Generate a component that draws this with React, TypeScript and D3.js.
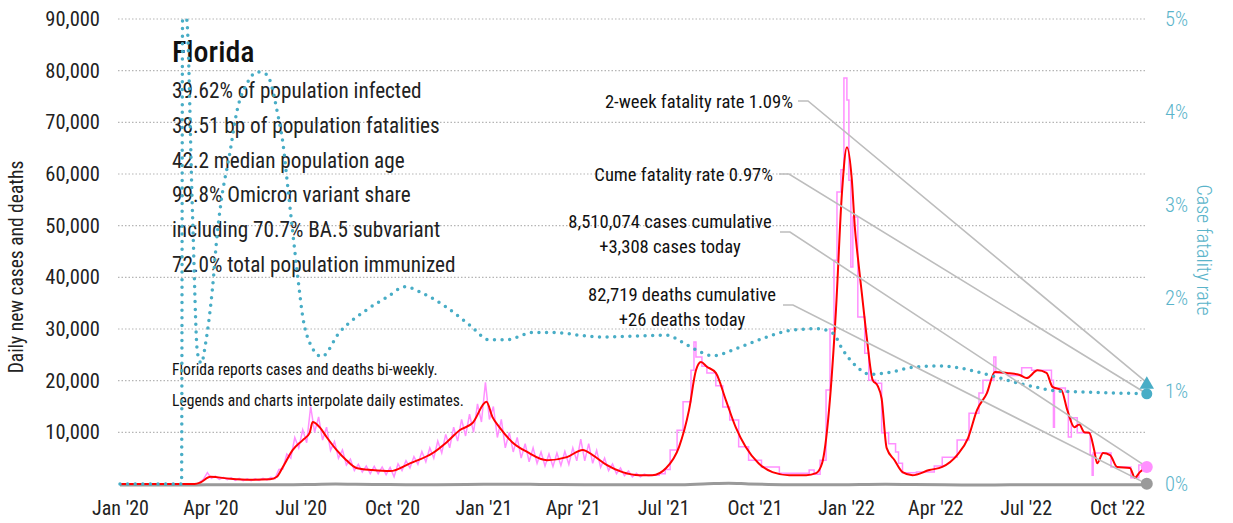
import React, { useEffect, useRef } from "react";
import * as d3 from "d3";

const FONT = "'Roboto Condensed', 'Roboto', sans-serif";

const caseTicks = [10000, 20000, 30000, 40000, 50000, 60000, 70000, 80000, 90000];
const cfrTicks = [0, 1, 2, 3, 4, 5];
const quarterTicks = [
  "2020-01-01", "2020-04-01", "2020-07-01", "2020-10-01",
  "2021-01-01", "2021-04-01", "2021-07-01", "2021-10-01",
  "2022-01-01", "2022-04-01", "2022-07-01", "2022-10-01",
];

const stateName = "Florida";
const infoLines = [
  "39.62% of population infected",
  "38.51 bp of population fatalities",
  "42.2 median population age",
  "99.8% Omicron variant share",
  "including 70.7% BA.5 subvariant",
  "72.0% total population immunized",
];
const notes = [
  "Florida reports cases and deaths bi-weekly.",
  "Legends and charts interpolate daily estimates.",
];

// 7-day average of new cases (red)
const avgCases: [string, number][] = [
  ["2020-01-01", 0], ["2020-03-16", 0], ["2020-03-22", 300], ["2020-04-01", 1400],
  ["2020-04-21", 1000], ["2020-05-11", 800], ["2020-05-31", 900], ["2020-06-07", 1400],
  ["2020-06-13", 3300], ["2020-06-23", 6600], ["2020-07-03", 8500], ["2020-07-10", 9900],
  ["2020-07-13", 12000], ["2020-07-20", 11000], ["2020-07-27", 9100], ["2020-08-06", 6600],
  ["2020-08-16", 4600], ["2020-08-26", 3100], ["2020-09-11", 2700], ["2020-09-29", 2500],
  ["2020-10-19", 4000], ["2020-11-11", 6000], ["2020-11-25", 8100], ["2020-12-08", 10400],
  ["2020-12-21", 11800], ["2021-01-04", 15900], ["2021-01-10", 13000], ["2021-01-17", 11000],
  ["2021-01-30", 8100], ["2021-02-14", 6200], ["2021-03-06", 4600], ["2021-03-26", 5200],
  ["2021-04-11", 6600], ["2021-04-21", 5600], ["2021-05-05", 3700], ["2021-05-21", 2300],
  ["2021-06-07", 1700], ["2021-06-20", 1700], ["2021-07-04", 3100], ["2021-07-17", 7200],
  ["2021-07-27", 14300], ["2021-08-03", 22000], ["2021-08-08", 23600], ["2021-08-14", 22700],
  ["2021-08-23", 21500], ["2021-09-02", 16300], ["2021-09-12", 11000], ["2021-09-22", 7200],
  ["2021-10-05", 4000], ["2021-10-19", 2300], ["2021-11-05", 1700], ["2021-11-22", 1700],
  ["2021-12-02", 2100], ["2021-12-08", 4000], ["2021-12-15", 14300], ["2021-12-22", 33700],
  ["2021-12-28", 56300], ["2022-01-02", 65200], ["2022-01-07", 58800], ["2022-01-10", 49700],
  ["2022-01-13", 43900], ["2022-01-17", 37000], ["2022-01-22", 28400], ["2022-01-28", 20100],
  ["2022-02-02", 19000], ["2022-02-06", 16500], ["2022-02-11", 7000], ["2022-02-19", 4600],
  ["2022-02-27", 2300], ["2022-03-09", 1700], ["2022-03-26", 2700], ["2022-04-08", 3300],
  ["2022-04-23", 5600], ["2022-05-04", 8900], ["2022-05-13", 14300], ["2022-05-23", 17600],
  ["2022-05-31", 21700], ["2022-06-12", 21500], ["2022-06-25", 21100], ["2022-07-02", 20500],
  ["2022-07-13", 22000], ["2022-07-22", 21500], ["2022-07-28", 18800], ["2022-08-06", 18200],
  ["2022-08-12", 14300], ["2022-08-19", 11000], ["2022-08-24", 11500], ["2022-08-29", 10000],
  ["2022-09-03", 9900], ["2022-09-08", 6600], ["2022-09-11", 4000], ["2022-09-17", 6000],
  ["2022-09-24", 5600], ["2022-10-01", 3300], ["2022-10-14", 3100], ["2022-10-19", 1200],
  ["2022-10-24", 2300], ["2022-10-31", 3300],
];

// daily cases (pink), one value every 4 days from dailyStart
const dailyStart = "2020-03-21";
const dailyCases: number[] = [
  300, 900, 2200, 1100, 1500, 900, 1300, 850, 1200, 700,
  1100, 650, 1000, 650, 1000, 700, 1100, 800, 1300, 1000,
  2800, 2900, 5800, 5000, 9000, 7000, 10500, 8000, 15000, 10000,
  13000, 8500, 11000, 6500, 8200, 5000, 6600, 3700, 4800, 2600,
  3800, 2300, 3500, 2000, 3400, 2000, 3300, 1800, 3200, 1400,
  3900, 2600, 4500, 3100, 5300, 3800, 6300, 4300, 7000, 5000,
  8300, 6000, 9600, 7000, 11000, 8300, 12500, 9300, 13500, 10000,
  15500, 12000, 19700, 12500, 15000, 9000, 12500, 7000, 10000, 6200,
  9000, 5000, 7800, 4300, 7000, 4000, 6200, 3500, 5800, 3400,
  6000, 3600, 6300, 3800, 7000, 4500, 8700, 4500, 7800, 4000,
  6500, 3200, 5000, 2600, 3900, 2000, 3100, 1600, 2500, 1400,
  2100, 1400, 1900, 1600, 1700,
];

// bi-weekly reported daily cases after mid 2021 (pink, stepped)
const dailyReported: [string, number][] = [
  ["2021-06-19", 1700], ["2021-06-27", 2000], ["2021-07-03", 2800], ["2021-07-08", 6600],
  ["2021-07-15", 10400], ["2021-07-21", 15900], ["2021-07-29", 22000], ["2021-08-01", 27500],
  ["2021-08-03", 24600], ["2021-08-09", 22800], ["2021-08-14", 21500], ["2021-08-23", 19000],
  ["2021-08-30", 14900], ["2021-09-06", 12400], ["2021-09-15", 7200], ["2021-09-25", 4600],
  ["2021-10-08", 3300], ["2021-10-26", 2100], ["2021-11-25", 2700], ["2021-11-30", 1900],
  ["2021-12-06", 4600], ["2021-12-12", 18200], ["2021-12-16", 30000], ["2021-12-20", 43300],
  ["2021-12-23", 56500], ["2021-12-27", 60800], ["2021-12-30", 78600], ["2022-01-02", 74300],
  ["2022-01-04", 58800], ["2022-01-06", 42000], ["2022-01-08", 51700], ["2022-01-13", 32300],
  ["2022-01-20", 25300], ["2022-01-24", 20100], ["2022-01-31", 19500], ["2022-02-06", 9900],
  ["2022-02-13", 7800], ["2022-02-20", 6200], ["2022-02-23", 4000], ["2022-02-27", 2200],
  ["2022-03-13", 2300], ["2022-03-31", 3500], ["2022-04-08", 5200], ["2022-04-23", 8500],
  ["2022-05-05", 13700], ["2022-05-15", 17600], ["2022-05-19", 20100], ["2022-05-30", 24600],
  ["2022-06-01", 21500], ["2022-06-13", 21000], ["2022-06-27", 22500], ["2022-07-07", 22000],
  ["2022-07-27", 20100], ["2022-07-29", 11000], ["2022-07-30", 18600], ["2022-08-10", 17800],
  ["2022-08-13", 9100], ["2022-08-16", 12800], ["2022-08-22", 9900], ["2022-09-04", 5600],
  ["2022-09-06", 1700], ["2022-09-07", 6000], ["2022-09-25", 3300], ["2022-10-15", 1200],
  ["2022-10-23", 3700], ["2022-10-31", 3300],
];

// daily deaths (gray)
const dailyDeaths: [string, number][] = [
  ["2020-01-01", 0], ["2020-03-15", 0], ["2020-04-10", 60], ["2020-05-15", 40],
  ["2020-06-15", 40], ["2020-07-15", 120], ["2020-08-05", 180], ["2020-08-25", 130],
  ["2020-09-15", 100], ["2020-10-15", 70], ["2020-11-15", 60], ["2020-12-15", 100],
  ["2021-01-15", 150], ["2021-02-15", 140], ["2021-03-15", 80], ["2021-04-15", 60],
  ["2021-05-15", 50], ["2021-06-15", 40], ["2021-07-15", 60], ["2021-08-15", 250],
  ["2021-09-05", 350], ["2021-09-25", 200], ["2021-10-15", 100], ["2021-11-15", 40],
  ["2021-12-15", 30], ["2022-01-15", 100], ["2022-02-10", 150], ["2022-03-10", 80],
  ["2022-04-10", 30], ["2022-05-15", 20], ["2022-06-15", 30], ["2022-07-15", 50],
  ["2022-08-15", 50], ["2022-09-15", 40], ["2022-10-31", 26],
];

// case fatality rate, % (teal dotted, right axis)
const fatalityRate: [string, number][] = [
  ["2020-01-01", 0], ["2020-03-03", 0], ["2020-03-04", 5], ["2020-03-08", 5],
  ["2020-03-14", 2.91], ["2020-03-19", 1.41], ["2020-03-23", 1.3], ["2020-03-27", 1.5],
  ["2020-03-31", 1.8], ["2020-04-03", 2.09], ["2020-04-08", 2.7], ["2020-04-12", 3.05],
  ["2020-04-20", 3.52], ["2020-04-28", 4.02], ["2020-05-08", 4.31], ["2020-05-18", 4.43],
  ["2020-05-28", 4.4], ["2020-06-02", 4.27], ["2020-06-07", 4.02], ["2020-06-13", 3.67],
  ["2020-06-18", 3.19], ["2020-06-23", 2.7], ["2020-06-28", 2.23], ["2020-07-03", 1.8],
  ["2020-07-10", 1.52], ["2020-07-22", 1.37], ["2020-08-09", 1.63], ["2020-09-05", 1.87],
  ["2020-09-26", 2.01], ["2020-10-14", 2.12], ["2020-11-01", 2.05], ["2020-11-25", 1.9],
  ["2020-12-18", 1.71], ["2021-01-07", 1.55], ["2021-01-24", 1.55], ["2021-02-20", 1.63],
  ["2021-03-12", 1.63], ["2021-04-08", 1.6], ["2021-04-28", 1.58], ["2021-06-01", 1.59],
  ["2021-07-04", 1.6], ["2021-07-21", 1.52], ["2021-07-31", 1.46], ["2021-08-20", 1.38],
  ["2021-09-16", 1.47], ["2021-10-13", 1.58], ["2021-11-05", 1.65], ["2021-12-03", 1.67],
  ["2021-12-19", 1.62], ["2021-12-29", 1.44], ["2022-01-12", 1.26], ["2022-01-25", 1.18],
  ["2022-02-14", 1.2], ["2022-03-06", 1.25], ["2022-04-03", 1.27], ["2022-04-29", 1.24],
  ["2022-05-26", 1.17], ["2022-06-18", 1.1], ["2022-07-12", 1.04], ["2022-08-01", 1.0],
  ["2022-08-24", 0.99], ["2022-10-31", 0.97],
];

const lastDate = "2022-10-31";
const twoWeekRate = 1.09;
const cumeRate = 0.97;
const casesToday = 3308;
const deathsToday = 26;

const labelTwoWeek = "2-week fatality rate 1.09%";
const labelCume = "Cume fatality rate 0.97%";
const labelCases = ["8,510,074 cases cumulative", "+3,308 cases today"];
const labelDeaths = ["82,719 deaths cumulative", "+26 deaths today"];

export default function App() {
  const ref = useRef<SVGSVGElement>(null);

  useEffect(() => {
    const width = 1233;
    const height = 523;
    const teal = "#48adc6";
    const pink = "#ff90ff";
    const parse = d3.timeParse("%Y-%m-%d");

    const svg = d3.select(ref.current).attr("viewBox", [0, 0, width, height]);
    svg.selectAll("*").remove();
    svg.attr("font-family", FONT).attr("font-stretch", "condensed").attr("font-weight", 400);

    const x = d3.scaleTime()
      .domain([parse("2020-01-01")!, parse("2022-10-01")!])
      .range([120, 1117]);
    const y = d3.scaleLinear().domain([0, 90000]).range([484, 19]);
    const yR = d3.scaleLinear().domain([0, 5]).range([484, 19]);

    // gridlines
    svg.append("g")
      .selectAll("line")
      .data(caseTicks)
      .join("line")
        .attr("x1", 118).attr("x2", 1145)
        .attr("y1", d => y(d)).attr("y2", d => y(d))
        .attr("stroke", "#b5b5b5")
        .attr("stroke-width", 1.2)
        .attr("stroke-dasharray", "1.5 2");

    // left axis
    const yAxis = svg.append("g")
      .attr("transform", "translate(108,0)")
      .call(d3.axisLeft(y).tickValues(caseTicks).tickFormat(d3.format(",")).tickSize(0).tickPadding(8));
    yAxis.select(".domain").remove();
    yAxis.selectAll("text")
      .attr("font-family", FONT).attr("font-size", 20.5).attr("fill", "#222");

    // right axis
    const rAxis = svg.append("g")
      .attr("transform", "translate(1157,0)")
      .call(d3.axisRight(yR).tickValues(cfrTicks).tickFormat(d => `${d}%`).tickSize(0).tickPadding(8));
    rAxis.select(".domain").remove();
    rAxis.selectAll("text")
      .attr("font-family", FONT).attr("font-size", 20.5).attr("font-weight", 300).attr("fill", "#5ab4ca");

    // bottom axis
    const xAxis = svg.append("g")
      .attr("transform", "translate(0,495)")
      .call(d3.axisBottom(x)
        .tickValues(quarterTicks.map(d => parse(d)!))
        .tickFormat(d3.timeFormat("%b '%y") as any)
        .tickSize(0).tickPadding(6));
    xAxis.select(".domain").remove();
    xAxis.selectAll("text")
      .attr("font-family", FONT).attr("font-size", 20).attr("fill", "#222");

    // axis titles
    svg.append("text")
      .attr("transform", "translate(23,267) rotate(-90)")
      .attr("text-anchor", "middle")
      .attr("font-size", 19.5).attr("fill", "#222")
      .text("Daily new cases and deaths");
    svg.append("text")
      .attr("transform", "translate(1197,250) rotate(90)")
      .attr("text-anchor", "middle")
      .attr("font-size", 20).attr("font-weight", 300).attr("fill", "#5ab4ca")
      .text("Case fatality rate");

    // info block
    svg.append("text")
      .attr("x", 172).attr("y", 62)
      .attr("font-size", 30).attr("font-weight", 500).attr("fill", "#111")
      .text(stateName);
    svg.append("g")
      .selectAll("text")
      .data(infoLines)
      .join("text")
        .attr("x", 172).attr("y", (d, i) => 98 + i * 34.8)
        .attr("font-size", 21.2).attr("fill", "#222")
        .text(d => d);
    svg.append("g")
      .selectAll("text")
      .data(notes)
      .join("text")
        .attr("x", 172).attr("y", (d, i) => 375 + i * 31)
        .attr("font-size", 15.6).attr("fill", "#111")
        .text(d => d);

    // annotations
    const ann = svg.append("g").attr("font-size", 18.6).attr("fill", "#111");
    ann.append("text").attr("x", 793).attr("y", 108).attr("text-anchor", "end").text(labelTwoWeek);
    ann.append("text").attr("x", 773).attr("y", 181).attr("text-anchor", "end").text(labelCume);
    ann.selectAll(".cases")
      .data(labelCases)
      .join("text")
        .attr("class", "cases")
        .attr("x", 670).attr("y", (d, i) => 228 + i * 24.5)
        .attr("text-anchor", "middle").text(d => d);
    ann.selectAll(".deaths")
      .data(labelDeaths)
      .join("text")
        .attr("class", "deaths")
        .attr("x", 682).attr("y", (d, i) => 301 + i * 24.5)
        .attr("text-anchor", "middle").text(d => d);

    const lastX = x(parse(lastDate)!);

    // series
    const deathsLine = d3.line<[string, number]>()
      .x(d => x(parse(d[0])!)).y(d => y(d[1]) + 1)
      .curve(d3.curveMonotoneX);
    svg.append("path")
      .attr("d", deathsLine(dailyDeaths))
      .attr("fill", "none").attr("stroke", "#9a9a9a").attr("stroke-width", 3);

    const start = parse(dailyStart)!;
    const dailyLine = d3.line<number>()
      .x((d, i) => x(d3.timeDay.offset(start, i * 4)))
      .y(d => y(d));
    svg.append("path")
      .attr("d", dailyLine(dailyCases))
      .attr("fill", "none").attr("stroke", pink).attr("stroke-width", 1.5);

    const stepLine = d3.line<[string, number]>()
      .x(d => x(parse(d[0])!)).y(d => y(d[1]))
      .curve(d3.curveStepAfter);
    svg.append("path")
      .attr("d", stepLine(dailyReported))
      .attr("fill", "none").attr("stroke", pink).attr("stroke-width", 1.5);

    const avgLine = d3.line<[string, number]>()
      .x(d => x(parse(d[0])!)).y(d => y(d[1]))
      .curve(d3.curveMonotoneX);
    svg.append("path")
      .attr("d", avgLine(avgCases))
      .attr("fill", "none").attr("stroke", "#ff0000").attr("stroke-width", 2);

    const cfrLine = d3.line<[string, number]>()
      .x(d => x(parse(d[0])!)).y(d => yR(d[1]))
      .curve(d3.curveMonotoneX);
    svg.append("path")
      .attr("d", cfrLine(fatalityRate))
      .attr("fill", "none").attr("stroke", teal).attr("stroke-width", 3.5)
      .attr("stroke-linecap", "round").attr("stroke-dasharray", "0 7.6");

    // leader lines
    const leaders = [
      { x0: 798, y0: 101, tx: lastX, ty: yR(twoWeekRate) },
      { x0: 779, y0: 174, tx: lastX, ty: yR(cumeRate) },
      { x0: 780, y0: 232, tx: lastX, ty: y(casesToday) },
      { x0: 783, y0: 305, tx: lastX, ty: y(deathsToday) },
    ];
    svg.append("g")
      .selectAll("polyline")
      .data(leaders)
      .join("polyline")
        .attr("points", d => `${d.x0},${d.y0} ${d.x0 + 10},${d.y0} ${d.tx},${d.ty}`)
        .attr("fill", "none").attr("stroke", "#bdbdbd").attr("stroke-width", 1.6);

    // end markers
    svg.append("path")
      .attr("transform", `translate(${lastX},${yR(twoWeekRate) + 2})`)
      .attr("d", d3.symbol(d3.symbolTriangle, 90)())
      .attr("fill", teal);
    svg.append("circle").attr("cx", lastX).attr("cy", yR(cumeRate)).attr("r", 5.5).attr("fill", teal);
    svg.append("circle").attr("cx", lastX).attr("cy", y(casesToday)).attr("r", 6).attr("fill", pink);
    svg.append("circle").attr("cx", lastX).attr("cy", y(deathsToday)).attr("r", 6).attr("fill", "#9a9a9a");
  }, []);

  return (
    <svg
      ref={ref}
      width={1233}
      height={523}
      style={{ position: "absolute", left: 0, top: 0, background: "#fff" }}
    />
  );
}
